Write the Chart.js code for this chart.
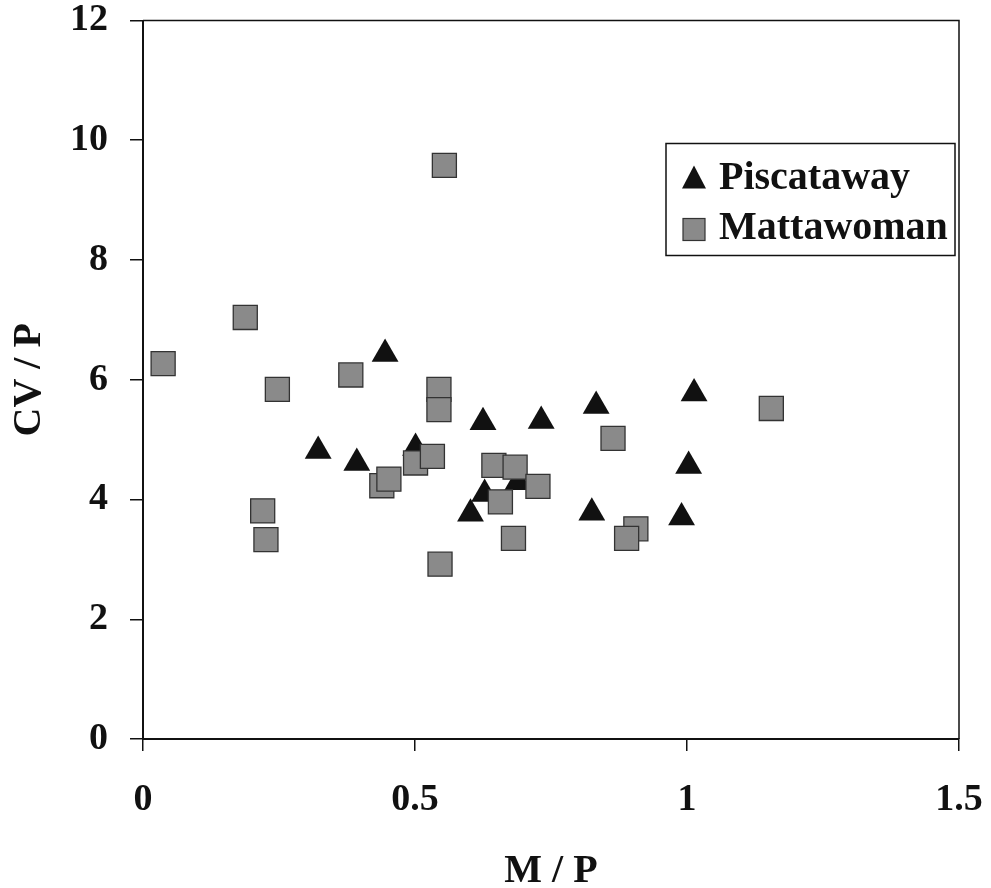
<!DOCTYPE html>
<html>
<head>
<meta charset="utf-8">
<title>CV / P vs M / P</title>
<script src="https://cdn.jsdelivr.net/npm/chart.js@4.4.1/dist/chart.umd.min.js"></script>
<style>
  html, body { margin: 0; padding: 0; background: #fff; }
  #wrap { width: 991px; height: 888px; }
</style>
</head>
<body>
<div id="wrap"><canvas id="chart" width="991" height="888"></canvas></div>
<script>
var xTicks = [0, 0.5, 1, 1.5];
var yTicks = [0, 2, 4, 6, 8, 10, 12];

var seriesNames = ['Piscataway', 'Mattawoman'];

var piscatawayX = [0.445, 0.322, 0.393, 0.501, 0.625, 0.732, 0.833, 1.013, 1.003, 0.990, 0.825, 0.602, 0.628, 0.689];
var piscatawayY = [6.43, 4.81, 4.61, 4.86, 5.29, 5.31, 5.56, 5.77, 4.56, 3.70, 3.78, 3.76, 4.09, 4.29];

var mattawomanX = [0.037, 0.188, 0.247, 0.382, 0.544, 0.544, 0.220, 0.226, 0.546, 0.439, 0.452, 0.501, 0.532,
                   0.645, 0.684, 0.726, 0.657, 0.681, 0.864, 0.906, 0.889, 0.554, 1.155];
var mattawomanY = [6.27, 7.04, 5.84, 6.08, 5.84, 5.50, 3.81, 3.33, 2.92, 4.23, 4.34, 4.61, 4.72,
                   4.57, 4.54, 4.22, 3.96, 3.35, 5.02, 3.51, 3.35, 9.58, 5.52];

var serif = "'Liberation Serif', 'Times New Roman', serif";
var ink = '#111';
var squareFill = '#8a8a8a';
var squareEdge = '#333';

function toPoints(xs, ys) {
  return xs.map(function (x, i) { return { x: x, y: ys[i] }; });
}

// frame along the top and right of the plot area
var frame = {
  id: 'frame',
  beforeDatasetsDraw: function (chart) {
    var a = chart.chartArea, ctx = chart.ctx;
    ctx.save();
    ctx.strokeStyle = ink;
    ctx.lineWidth = 1.5;
    ctx.beginPath();
    ctx.moveTo(a.left, a.top);
    ctx.lineTo(a.right, a.top);
    ctx.lineTo(a.right, a.bottom);
    ctx.stroke();
    ctx.restore();
  }
};

// boxed legend sitting inside the plot, upper right
var boxLegend = {
  id: 'boxLegend',
  afterDraw: function (chart) {
    var a = chart.chartArea, ctx = chart.ctx;
    var left = a.right - 293, top = a.top + 123, w = 289, h = 112;
    ctx.save();
    ctx.fillStyle = '#fff';
    ctx.fillRect(left, top, w, h);
    ctx.strokeStyle = ink;
    ctx.lineWidth = 1.5;
    ctx.strokeRect(left, top, w, h);

    var mx = left + 28;
    // triangle marker
    var ty = top + 34;
    ctx.fillStyle = ink;
    ctx.beginPath();
    ctx.moveTo(mx, ty - 12);
    ctx.lineTo(mx + 12, ty + 11);
    ctx.lineTo(mx - 12, ty + 11);
    ctx.closePath();
    ctx.fill();
    // square marker
    var sy = top + 86;
    ctx.fillStyle = squareFill;
    ctx.fillRect(mx - 11, sy - 11, 22, 22);
    ctx.strokeStyle = squareEdge;
    ctx.lineWidth = 1.2;
    ctx.strokeRect(mx - 11, sy - 11, 22, 22);

    ctx.fillStyle = ink;
    ctx.font = 'bold 40px ' + serif;
    ctx.textBaseline = 'middle';
    ctx.textAlign = 'left';
    ctx.fillText(seriesNames[0], left + 53, top + 35);
    ctx.fillText(seriesNames[1], left + 53, top + 85);
    ctx.restore();
  }
};

new Chart(document.getElementById('chart'), {
  type: 'scatter',
  data: {
    datasets: [
      {
        label: seriesNames[0],
        data: toPoints(piscatawayX, piscatawayY),
        pointStyle: 'triangle',
        pointRadius: 15.5,
        backgroundColor: ink,
        borderColor: ink,
        borderWidth: 0,
        order: 1
      },
      {
        label: seriesNames[1],
        data: toPoints(mattawomanX, mattawomanY),
        pointStyle: 'rect',
        pointRadius: 17,
        backgroundColor: squareFill,
        borderColor: squareEdge,
        borderWidth: 1.3,
        order: 0
      }
    ]
  },
  options: {
    responsive: false,
    animation: false,
    layout: { padding: { top: 20.5, right: 32, left: 0, bottom: 0 } },
    plugins: {
      legend: { display: false },
      tooltip: { enabled: false }
    },
    scales: {
      x: {
        type: 'linear',
        min: 0,
        max: 1.5,
        afterBuildTicks: function (scale) {
          scale.ticks = xTicks.map(function (v) { return { value: v }; });
        },
        afterFit: function (scale) {
          // fixed band under the plot; end labels may hang past the plot edges
          scale.height = 149;
          scale.paddingLeft = 0;
          scale.paddingRight = 0;
        },
        grid: { drawOnChartArea: false, drawTicks: true, tickLength: 12, color: ink, lineWidth: 1.5 },
        border: { display: true, color: ink, width: 2 },
        ticks: {
          padding: 30,
          color: ink,
          maxRotation: 0,
          callback: function (v) { return String(v); },
          font: { family: serif, size: 38, weight: 'bold', lineHeight: 1 }
        },
        title: {
          display: true,
          text: 'M / P',
          color: ink,
          font: { family: serif, size: 40, weight: 'bold', lineHeight: 0.8 },
          padding: { top: 0, bottom: 0 }
        }
      },
      y: {
        type: 'linear',
        min: 0,
        max: 12,
        afterBuildTicks: function (scale) {
          scale.ticks = yTicks.map(function (v) { return { value: v }; });
        },
        afterFit: function (scale) {
          scale.width = 143;
          scale.paddingTop = 0;
          scale.paddingBottom = 0;
        },
        grid: { drawOnChartArea: false, drawTicks: true, tickLength: 13, color: ink, lineWidth: 1.5 },
        border: { display: true, color: ink, width: 2 },
        ticks: {
          padding: 22,
          color: ink,
          callback: function (v) { return String(v); },
          font: { family: serif, size: 38, weight: 'bold', lineHeight: 1 }
        },
        title: {
          display: true,
          text: 'CV / P',
          color: ink,
          font: { family: serif, size: 40, weight: 'bold', lineHeight: 1 },
          padding: { top: 10, bottom: 0 }
        }
      }
    }
  },
  plugins: [frame, boxLegend]
});
</script>
</body>
</html>
